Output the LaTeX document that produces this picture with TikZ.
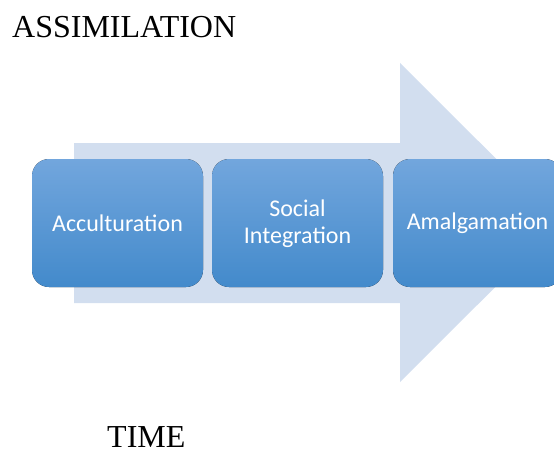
\documentclass[tikz,border=0pt]{standalone}
\usepackage{fontspec}
\setmainfont{Liberation Serif}
\newfontfamily\boxfont{Carlito}
\begin{document}
\begin{tikzpicture}[x=1pt,y=-1pt,
  stage/.style={rounded corners=17pt, top color=stagetop, bottom color=stagebot,
    draw=none},
  stagetext/.style={text=white, font=\boxfont\fontsize{24}{27}\selectfont,
    align=center, inner sep=0pt},
  heading/.style={font=\fontsize{32}{34}\selectfont, inner sep=0pt,
    anchor=base west, text depth=0pt}]
\definecolor{arrowfill}{RGB}{210,222,239}
\definecolor{stagetop}{RGB}{114,166,221}
\definecolor{stagebot}{RGB}{67,138,203}
\useasboundingbox (0,0) rectangle (554,452);
\clip (0,0) rectangle (554,452);
% big process arrow
\fill[arrowfill] (74,143) -- (400,143) -- (400,63) -- (560,222.5)
  -- (400,382) -- (400,303) -- (74,303) -- cycle;
% stages
\fill[stage] (32,159) rectangle (203,287);
\fill[stage] (212,159) rectangle (383,287);
\fill[stage] (393,159) rectangle (562,287);
\node[stagetext] (s1) at (117.5,223) {Acculturation};
\node[stagetext] (s2) at (297.5,224) {Social\\Integration};
\node[stagetext] (s3) at (477.5,223) {Amalgamation};
% labels
\node[heading] (title) at (12,38) {ASSIMILATION};
\node[heading] (time) at (107,447) {TIME};
\end{tikzpicture}
\end{document}
